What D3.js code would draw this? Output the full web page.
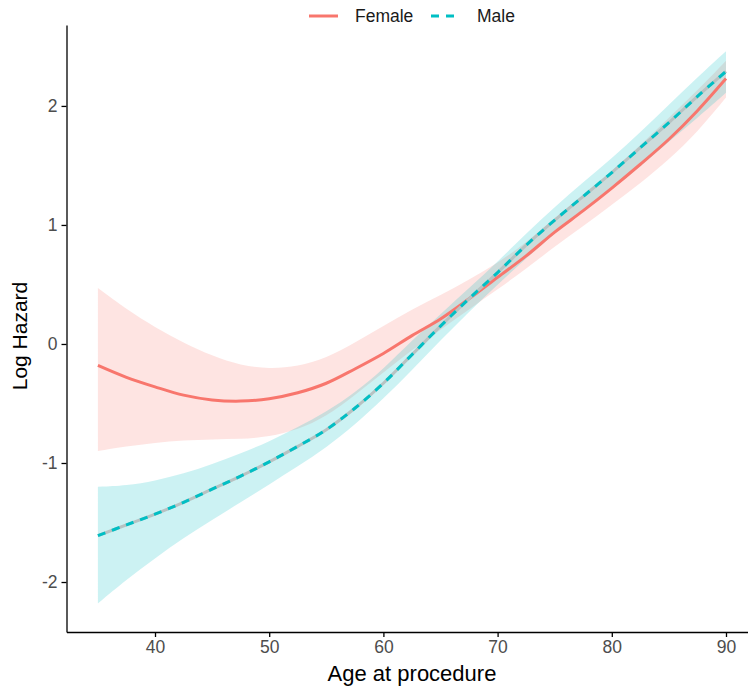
<!DOCTYPE html>
<html>
<head>
<meta charset="utf-8">
<script src="https://cdn.jsdelivr.net/npm/d3@7"></script>
<style>
  body { margin: 0; background: #fff; }
  svg { display: block; font-family: "Liberation Sans", Arial, sans-serif; }
  .axis path, .axis line { stroke: #000; stroke-width: 1.3; }
  .axis text { fill: #4d4d4d; font-size: 17.5px; }
</style>
</head>
<body>
<div id="chart"></div>
<script>
const ages = [35, 37.5, 40, 42.5, 45, 47.5, 50, 52.5, 55, 57.5, 60, 62.5, 65,
              67.5, 70, 72.5, 75, 77.5, 80, 82.5, 85, 87.5, 90];

// Female log hazard + confidence band
const femaleFit   = [-0.18, -0.28, -0.36, -0.43, -0.47, -0.48, -0.46, -0.41, -0.33, -0.21, -0.08, 0.07, 0.21,
                     0.38, 0.56, 0.74, 0.94, 1.12, 1.31, 1.51, 1.72, 1.96, 2.23];
const femaleLower = [-0.90, -0.86, -0.83, -0.81, -0.80, -0.80, -0.78, -0.72, -0.61, -0.43, -0.24, -0.05, 0.12,
                     0.29, 0.46, 0.63, 0.82, 0.99, 1.17, 1.35, 1.55, 1.78, 2.07];
const femaleUpper = [0.47, 0.29, 0.14, 0.01, -0.10, -0.18, -0.21, -0.19, -0.12, 0.01, 0.15, 0.29, 0.41,
                     0.54, 0.68, 0.85, 1.06, 1.25, 1.45, 1.67, 1.90, 2.13, 2.38];

// Male log hazard + confidence band
const maleFit   = [-1.61, -1.52, -1.43, -1.33, -1.22, -1.11, -0.99, -0.86, -0.72, -0.54, -0.33, -0.09, 0.15,
                   0.38, 0.60, 0.83, 1.04, 1.24, 1.44, 1.65, 1.86, 2.08, 2.29];
const maleLower = [-2.18, -1.98, -1.80, -1.63, -1.48, -1.33, -1.18, -1.03, -0.87, -0.68, -0.46, -0.22, 0.03,
                   0.27, 0.50, 0.72, 0.93, 1.12, 1.30, 1.49, 1.70, 1.90, 2.11];
const maleUpper = [-1.20, -1.19, -1.15, -1.09, -1.01, -0.92, -0.82, -0.70, -0.57, -0.41, -0.21, 0.03, 0.25,
                   0.47, 0.69, 0.93, 1.15, 1.36, 1.56, 1.78, 2.01, 2.24, 2.46];

const xTicks = [40, 50, 60, 70, 80, 90];
const yTicks = [-2, -1, 0, 1, 2];

const W = 748, H = 687;

const svg = d3.select("#chart").append("svg")
    .attr("width", W)
    .attr("height", H);

const x = d3.scaleLinear().domain([32.25, 92.75]).range([66.5, 757.4]);
const y = d3.scaleLinear().domain([-2.42, 2.68]).range([632, 25]);

function rows(fit, lo, hi) {
    return ages.map((a, i) => ({ age: a, fit: fit[i], lo: lo[i], hi: hi[i] }));
}
const female = rows(femaleFit, femaleLower, femaleUpper);
const male = rows(maleFit, maleLower, maleUpper);

const band = d3.area()
    .x(d => x(d.age))
    .y0(d => y(d.lo))
    .y1(d => y(d.hi))
    .curve(d3.curveBasis);

const line = d3.line()
    .x(d => x(d.age))
    .y(d => y(d.fit))
    .curve(d3.curveCatmullRom);

// ribbons
svg.append("path").datum(female)
    .attr("d", band)
    .attr("fill", "#F8766D")
    .attr("fill-opacity", 0.2);

svg.append("path").datum(male)
    .attr("d", band)
    .attr("fill", "#00BFC4")
    .attr("fill-opacity", 0.2);

// lines
svg.append("path").datum(female)
    .attr("d", line)
    .attr("fill", "none")
    .attr("stroke", "#F8766D")
    .attr("stroke-width", 3);

svg.append("path").datum(male)
    .attr("d", line)
    .attr("fill", "none")
    .attr("stroke", "#b7c2c2")
    .attr("stroke-width", 3);

svg.append("path").datum(male)
    .attr("d", line)
    .attr("fill", "none")
    .attr("stroke", "#00BFC4")
    .attr("stroke-width", 3)
    .attr("stroke-dasharray", "8,7");

// axes
svg.append("g")
    .attr("class", "axis")
    .attr("transform", `translate(0,632)`)
    .call(d3.axisBottom(x).tickValues(xTicks).tickSize(5).tickSizeOuter(0).tickPadding(4));

svg.append("g")
    .attr("class", "axis")
    .attr("transform", `translate(66.5,0)`)
    .call(d3.axisLeft(y).tickValues(yTicks).tickFormat(d => String(d))
        .tickSize(5).tickSizeOuter(0).tickPadding(4));

// axis titles
svg.append("text")
    .attr("x", 412)
    .attr("y", 681)
    .attr("text-anchor", "middle")
    .attr("font-size", 22)
    .text("Age at procedure");

svg.append("text")
    .attr("transform", "translate(27,336) rotate(-90)")
    .attr("text-anchor", "middle")
    .attr("font-size", 21)
    .text("Log Hazard");

// legend
const legend = svg.append("g").attr("class", "legend");
const keys = [
    { label: "Female", color: "#F8766D", dash: null, x0: 309, tx: 355 },
    { label: "Male", color: "#00BFC4", dash: "8,7", x0: 431, tx: 477 }
];
keys.forEach(k => {
    legend.append("line")
        .attr("x1", k.x0).attr("x2", k.x0 + 29)
        .attr("y1", 16).attr("y2", 16)
        .attr("stroke", k.color)
        .attr("stroke-width", 3)
        .attr("stroke-dasharray", k.dash);
    legend.append("text")
        .attr("x", k.tx)
        .attr("y", 22)
        .attr("font-size", 17.5)
        .attr("fill", "#1a1a1a")
        .text(k.label);
});
</script>
</body>
</html>
